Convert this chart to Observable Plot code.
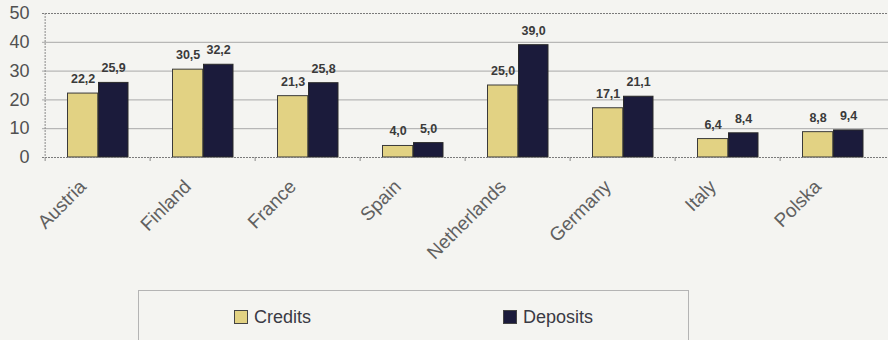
<!DOCTYPE html>
<html><head><meta charset="utf-8">
<script src="https://cdn.jsdelivr.net/npm/d3@7"></script>
<script src="https://cdn.jsdelivr.net/npm/@observablehq/plot@0.6"></script>
<style>
body{margin:0;background:#f4f4f1;font-family:"Liberation Sans",Arial,sans-serif;}
#wrap{position:relative;width:888px;height:340px;overflow:hidden}
#legend{position:absolute;left:138px;top:290px;width:551px;height:70px;border:1px solid #b4b4b4;box-sizing:border-box;}
.item{position:absolute;top:16px;display:flex;align-items:center;font-size:18px;color:#3a3a44;line-height:20px}
.sw{width:12px;height:12px;border:1px solid #444;margin-right:6px}
</style></head><body><div id="wrap"></div>
<script>
const countries = ["Austria","Finland","France","Spain","Netherlands","Germany","Italy","Polska"];
const credits = [22.2,30.5,21.3,4.0,25.0,17.1,6.4,8.8];
const deposits = [25.9,32.2,25.8,5.0,39.0,21.1,8.4,9.4];
const seriesNames = ["Credits","Deposits"];
const seriesColors = ["#e2d283","#1b1b3b"];
const yTicks = [0,10,20,30,40,50];

const data = countries.flatMap((c,i)=>[
  {country:c, series:"Credits", value:credits[i]},
  {country:c, series:"Deposits", value:deposits[i]}
]);
const fmt = v => v.toFixed(1).replace(".", ",");
const W = 888, ML = 42;
const half = (W-ML)/countries.length/2;

const chart = Plot.plot({
  width: W, height: 290,
  marginLeft: ML, marginRight: 0, marginTop: 13, marginBottom: 133,
  style: {background:"transparent", fontFamily:'"Liberation Sans",Arial,sans-serif', color:"#4a4a4a"},
  x: {domain: countries, padding: 0, axis: null},
  y: {domain: [0,50], axis: null},
  color: {domain: seriesNames, range: seriesColors},
  marks: [
    Plot.gridY({ticks: yTicks.slice(1,-1), stroke:"#a8a8a8", strokeOpacity:1}),
    Plot.ruleY([50], {stroke:"#7a7a7a", strokeDasharray:"2,1"}),
    Plot.barY(data.filter(d=>d.series==="Credits"), {x:"country", y:"value", fill:"series", stroke:"#3a3a3a", strokeWidth:1, insetLeft:22.5, insetRight:52.25}),
    Plot.barY(data.filter(d=>d.series==="Deposits"), {x:"country", y:"value", fill:"series", stroke:"#2a2a2a", strokeWidth:1, insetLeft:53.5, insetRight:22}),
    Plot.ruleY([0], {stroke:"#7a7a7a", strokeDasharray:"2,1"}),
    Plot.ruleX([countries[0]], {x:d=>d, dx:-half, stroke:"#8a8a8a", strokeDasharray:"2,1"}),
    Plot.axisY({ticks: yTicks, tickSize:0, tickPadding:13, fontSize:18, label:null, fill:"#505050"}),
    Plot.axisX({tickSize:4, dx:-half, tickFormat:()=>"", stroke:"#888", label:null}),
    Plot.axisX({tickSize:0, tickRotate:-45, tickPadding:26, dx:-15, fontSize:19, label:null, fill:"#606060"}),
    Plot.text(data.filter(d=>d.series==="Credits"), {x:"country", y:"value", text:d=>fmt(d.value), dx:-14.9, dy:-10.5, lineAnchor:"bottom", fontWeight:"bold", fontSize:12.5, fill:"#3a3a3a"}),
    Plot.text(data.filter(d=>d.series==="Deposits"), {x:"country", y:"value", text:d=>fmt(d.value), dx:15.6, dy:-10.5, lineAnchor:"bottom", fontWeight:"bold", fontSize:12.5, fill:"#3a3a3a"})
  ]
});
const wrap = document.getElementById("wrap");
wrap.appendChild(chart);
const legend = document.createElement("div");
legend.id = "legend";
const offsets = [95, 364];
seriesNames.forEach((s,i)=>{
  const it = document.createElement("div");
  it.className = "item";
  it.style.left = offsets[i] + "px";
  const sw = document.createElement("span");
  sw.className = "sw";
  sw.style.background = seriesColors[i];
  it.appendChild(sw);
  it.appendChild(document.createTextNode(s));
  legend.appendChild(it);
});
wrap.appendChild(legend);
</script>
</body></html>
